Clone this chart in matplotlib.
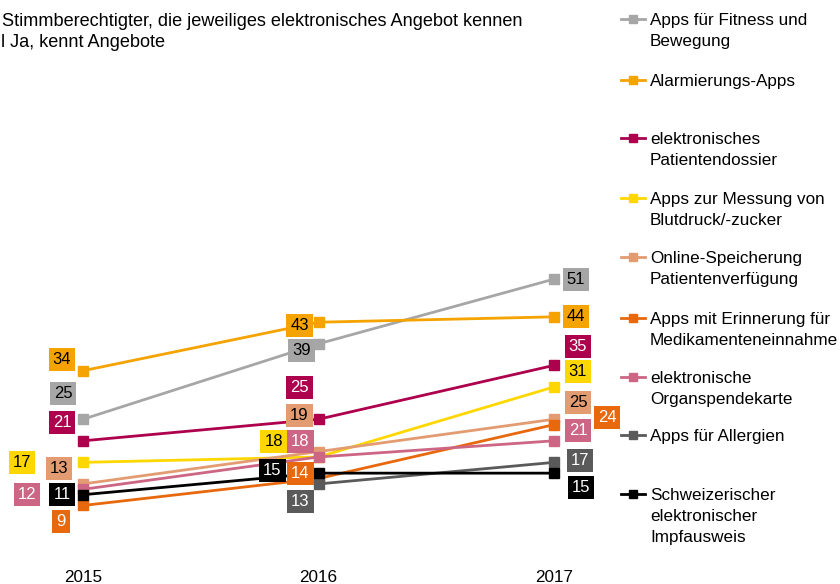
import matplotlib.pyplot as plt
from matplotlib.lines import Line2D
import numpy as np

plt.rcParams['font.family'] = ['Liberation Sans', 'DejaVu Sans']

# Daten (Anteil in %)
years = [2015, 2016, 2017]
fitness = [25, 39, 51]
alarm = [34, 43, 44]
dossier = [21, 25, 35]
blutdruck = [17, 18, 31]
online = [13, 19, 25]
medikamente = [9, 14, 24]
organspende = [12, 18, 21]
allergien = [np.nan, 13, 17]
impfausweis = [11, 15, 15]

labels = ["Apps für Fitness und\nBewegung",
          "Alarmierungs-Apps",
          "elektronisches\nPatientendossier",
          "Apps zur Messung von\nBlutdruck/-zucker",
          "Online-Speicherung\nPatientenverfügung",
          "Apps mit Erinnerung für\nMedikamenteneinnahme",
          "elektronische\nOrganspendekarte",
          "Apps für Allergien",
          "Schweizerischer\nelektronischer\nImpfausweis"]
series = [fitness, alarm, dossier, blutdruck, online, medikamente,
          organspende, allergien, impfausweis]
colors = ["#a6a6a6", "#f4a300", "#ad004d", "#ffd700", "#e39c72",
          "#e8680e", "#cc6684", "#5a5a5a", "#000000"]
text_colors = ["black", "black", "white", "black", "black",
               "white", "white", "white", "white"]

# Verschiebung der Wertelabels (Pixel, pro Jahr)
offsets = [[(-20, 26), (-17, -7), (22, 0)],
           [(-21, 11), (-19, -3), (22, 0)],
           [(-21, 18), (-19, 32), (24, 19)],
           [(-61, 0), (-45, 15), (24, 15)],
           [(-24, 15), (-19, 36), (24, 17)],
           [(-22, -16), (-18, 5), (53, 7)],
           [(-56, -5), (-18, 15), (24, 10)],
           [None, (-18, -18), (26, 2)],
           [(-21, 0), (-46, 3), (27, -14)]]
legend_y = [19, 80, 138, 198, 257, 318, 377, 435, 494]

W, H = 840, 584
fig = plt.figure(figsize=(W / 100, H / 100), dpi=100)


def fx(px):
    return px / W


def fy(py):
    return 1 - py / H


ax = fig.add_axes([0, fy(566), fx(620), (566 - 60) / H])
ax.set_xlim(2015 - 83 / 235.5, 2015 + 537 / 235.5)
ax.set_ylim((554 - 566) / 5.39, (554 - 60) / 5.39)

for vals, c, tc, offs in zip(series, colors, text_colors, offsets):
    ax.plot(years, vals, color=c, lw=2, marker='s', ms=6.5, zorder=2)
    for yr, v, off in zip(years, vals, offs):
        if off is None or np.isnan(v):
            continue
        ax.annotate(str(int(v)), (yr, v), xytext=off, textcoords='offset pixels',
                    ha='center', va='center', fontsize=12, color=tc, zorder=3,
                    bbox=dict(boxstyle='square,pad=0.24', fc=c, ec='none'))

ax.set_xticks(years)
ax.set_xticklabels([str(y) for y in years], fontsize=12.3)
ax.tick_params(axis='x', length=0, pad=3)
ax.set_yticks([])
for s in ax.spines.values():
    s.set_visible(False)
ax.patch.set_alpha(0)

# Titel (links abgeschnitten wie im Original)
fig.text(fx(2), fy(26), "Stimmberechtigter, die jeweiliges elektronisches Angebot kennen",
         fontsize=13.1, va='baseline', ha='left')
fig.text(fx(1), fy(47), "l Ja, kennt Angebote", fontsize=13.1, va='baseline', ha='left')

# Legende
for lab, c, ly in zip(labels, colors, legend_y):
    fig.add_artist(Line2D([fx(621), fx(633), fx(645)], [fy(ly)] * 3, color=c, lw=2,
                          marker='s', ms=6, markevery=[1], transform=fig.transFigure))
    for i, line in enumerate(lab.split("\n")):
        fig.text(fx(650), fy(ly + 6 + 21 * i), line, fontsize=12.3, va='baseline', ha='left')

plt.savefig("out.png", dpi=100)
